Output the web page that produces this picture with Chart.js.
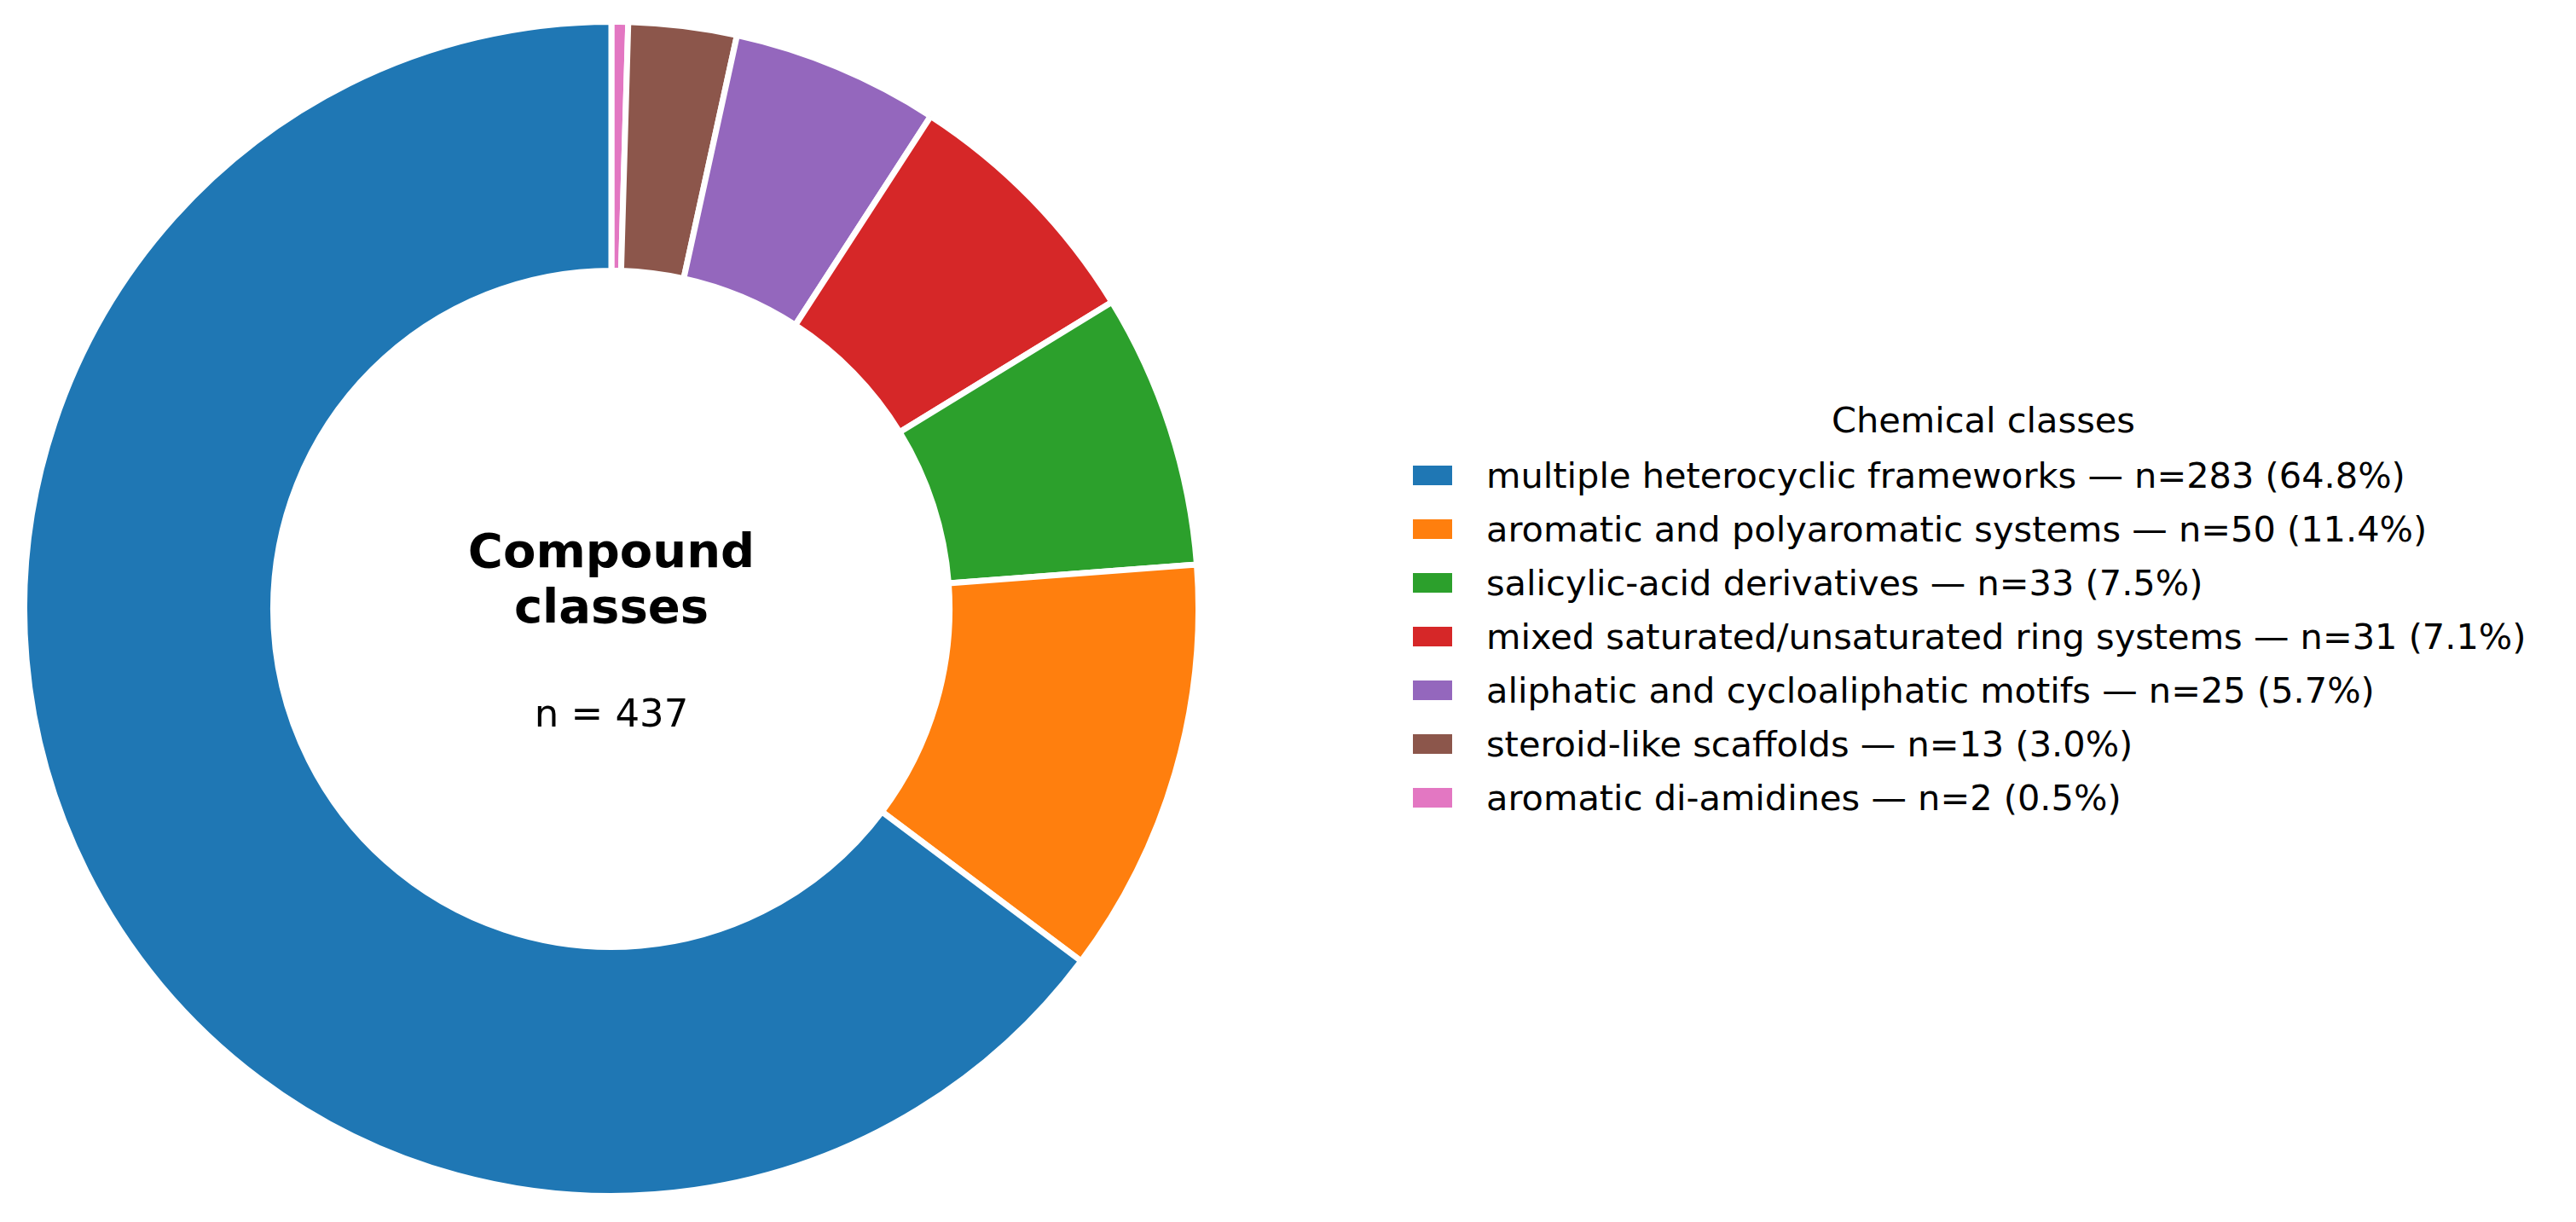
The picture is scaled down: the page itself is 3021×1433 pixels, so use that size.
<!DOCTYPE html>
<html>
<head>
<meta charset="utf-8">
<title>Compound classes</title>
<script src="https://cdn.jsdelivr.net/npm/chart.js@4.4.1/dist/chart.umd.min.js"></script>
<style>
  html, body {
    margin: 0;
    padding: 0;
    background: #ffffff;
    font-family: "DejaVu Sans", sans-serif;
    color: #000000;
  }

  #page {
    position: relative;
    width: 3021px;
    height: 1433px;
    overflow: hidden;
  }

  #chartBox {
    position: absolute;
    left: 25px;
    top: 22px;
    width: 1384px;
    height: 1384px;
  }

  .center-title {
    position: absolute;
    left: 417px;
    width: 600px;
    text-align: center;
    font-weight: bold;
    font-size: 56px;
    line-height: 65px;
    white-space: nowrap;
  }

  .center-n {
    position: absolute;
    left: 417px;
    width: 600px;
    top: 812px;
    text-align: center;
    font-size: 45px;
    line-height: 50px;
    white-space: nowrap;
  }

  #legendTitle {
    position: absolute;
    left: 1926px;
    width: 800px;
    top: 468px;
    text-align: center;
    font-size: 41.5px;
    line-height: 50px;
    white-space: nowrap;
  }

  .legend-row {
    position: absolute;
    left: 1657px;
    height: 63px;
    display: flex;
    align-items: center;
    white-space: nowrap;
  }

  .legend-swatch {
    width: 46px;
    height: 23px;
    margin-right: 40px;
    flex: none;
  }

  .legend-text {
    font-size: 41.5px;
    line-height: 63px;
  }
</style>
</head>
<body>
<div id="page">
  <div id="chartBox"><canvas id="chart"></canvas></div>

  <div class="center-title" style="top: 613px;">Compound</div>
  <div class="center-title" style="top: 678px;">classes</div>
  <div class="center-n">n = 437</div>

  <div id="legendTitle">Chemical classes</div>
  <div id="legend"></div>
</div>

<script>
// values (legend order, counter-clockwise from the top)
const classLabels = [
  "multiple heterocyclic frameworks",
  "aromatic and polyaromatic systems",
  "salicylic-acid derivatives",
  "mixed saturated/unsaturated ring systems",
  "aliphatic and cycloaliphatic motifs",
  "steroid-like scaffolds",
  "aromatic di-amidines"
];

const classCounts = [283, 50, 33, 31, 25, 13, 2];

const classShares = ["64.8", "11.4", "7.5", "7.1", "5.7", "3.0", "0.5"];

const classColors = [
  "#1f77b4",
  "#ff7f0e",
  "#2ca02c",
  "#d62728",
  "#9467bd",
  "#8c564b",
  "#e377c2"
];

const legendTop = 557;
const legendStep = 63;


function buildLegend() {
  const box = document.getElementById("legend");

  if (!box) {
    return;
  }

  classLabels.forEach((label, i) => {
    const row = document.createElement("div");
    row.className = "legend-row";
    row.style.top = (legendTop + legendStep * i - legendStep / 2) + "px";

    const swatch = document.createElement("span");
    swatch.className = "legend-swatch";
    swatch.style.background = classColors[i];

    const text = document.createElement("span");
    text.className = "legend-text";
    text.textContent = `${label} \u2014 n=${classCounts[i]} (${classShares[i]}%)`;

    row.appendChild(swatch);
    row.appendChild(text);
    box.appendChild(row);
  });
}


function renderChart() {
  const canvas = document.getElementById("chart");

  if (!canvas || typeof Chart === "undefined") {
    return;
  }

  // Chart.js goes clockwise from the top, matplotlib went the other way
  const labels = classLabels.slice().reverse();
  const counts = classCounts.slice().reverse();
  const colors = classColors.slice().reverse();

  new Chart(canvas.getContext("2d"), {
    type: "doughnut",
    data: {
      labels: labels,
      datasets: [{
        data: counts,
        backgroundColor: colors,
        borderColor: "#ffffff",
        borderWidth: 7,
        borderAlign: "center"
      }]
    },
    options: {
      responsive: true,
      maintainAspectRatio: false,
      animation: false,
      cutout: "57.6%",
      rotation: 0,
      layout: {
        padding: 0
      },
      plugins: {
        legend: {
          display: false
        },
        tooltip: {
          enabled: false
        }
      }
    }
  });
}


document.addEventListener("DOMContentLoaded", () => {
  buildLegend();
  renderChart();
});
</script>
</body>
</html>
